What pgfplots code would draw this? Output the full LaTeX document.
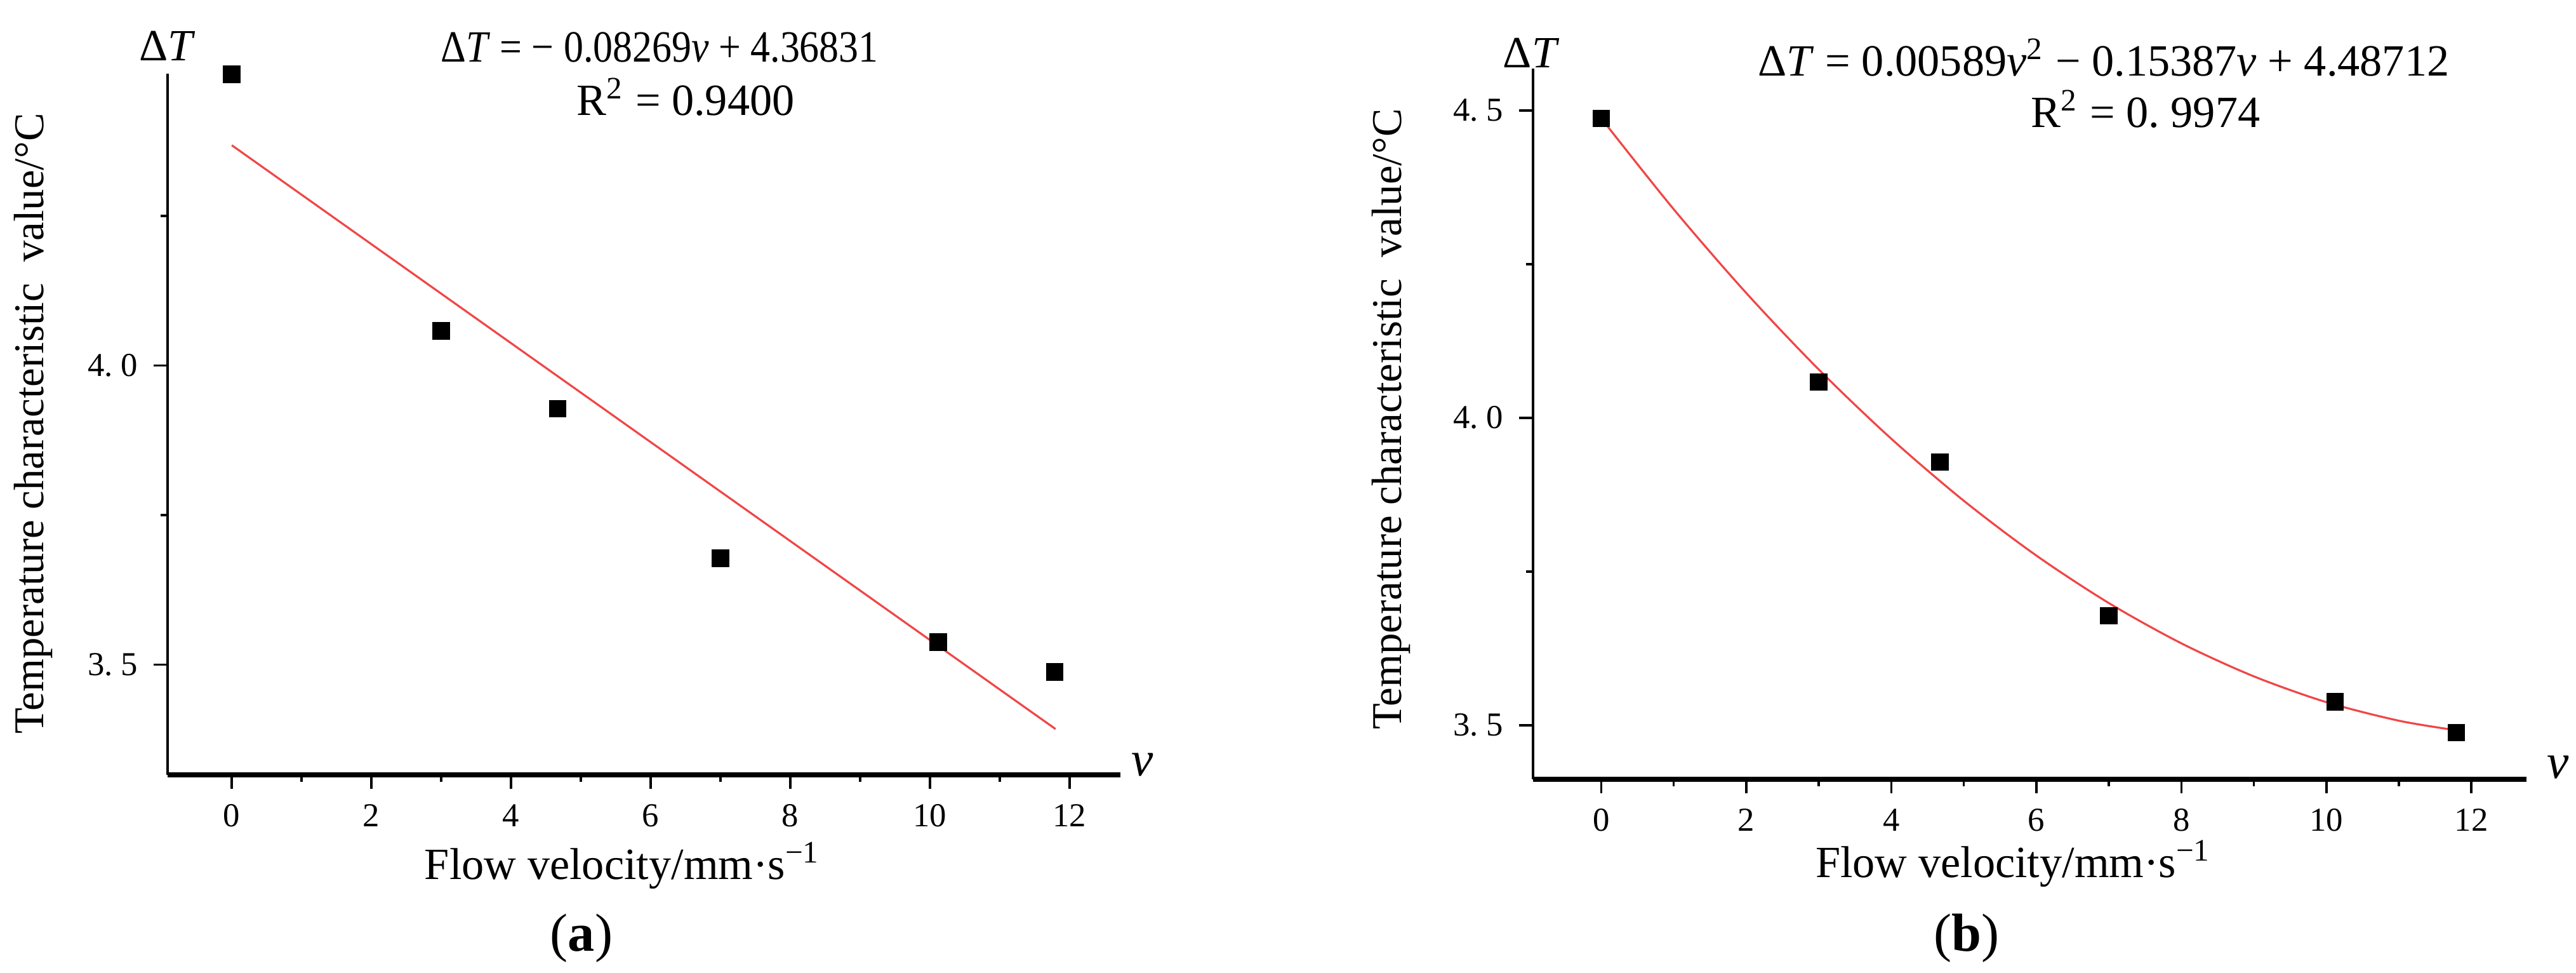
\documentclass[border=0pt]{standalone}
\usepackage{fontspec}
\setmainfont{Liberation Serif}
\usepackage{pgfplots}
\usepackage{pgfplotstable}
\pgfplotsset{compat=1.18}

% measured points (same in both panels)
\pgfplotstableread{
v dT
0     4.487
3.0   4.058
4.67  3.928
7.0   3.678
10.12 3.538
11.79 3.488
}\measured

% linear fit, end points
\pgfplotstableread{
v dT
0    4.36831
11.8 3.39257
}\linfit

% quadratic fit, tabulated
\pgfplotstableread{
v dT
0    4.48712
1    4.33914
2    4.20294
3    4.07852
4    3.96588
5    3.86502
6    3.77594
7    3.69864
8    3.63312
9    3.57938
10   3.53742
11   3.50724
11.8 3.49157
}\quadfit

\newcommand{\tl}[2]{#1.\hspace{0.25em}#2}

\pgfplotsset{
  panel/.style={
    scale only axis,
    axis x line*=bottom, axis y line*=left,
    axis line style={-},
    x axis line style={line width=1.1pt},
    y axis line style={line width=0.6pt},
    tick align=outside,
    xtick={0,2,...,12}, minor xtick={1,3,...,11},
    minor ytick={3.75,4.25},
    major tick length=0.11cm, minor tick length=0.055cm,
    tick style={black, line width=0.5pt},
    tick label style={font=\fontsize{7.5}{9}\selectfont},
    /pgf/number format/assume math mode=true,
    clip=false,
  },
  meas/.style={only marks, mark=square*, mark size=1.75pt, black},
  fitline/.style={no marks, color={rgb,255:red,240;green,70;blue,70}, line width=0.45pt},
}

\begin{document}
\begin{tikzpicture}[x=1cm,y=1cm]
\path[use as bounding box] (0,0) rectangle (20.29,7.66);

% ---------- (a) ----------
\begin{axis}[panel, at={(1.32cm,1.56cm)}, anchor=south west,
    width=7.505cm, height=5.52cm,
    xmin=-0.92, xmax=12.73, ymin=3.316, ymax=4.488,
    ytick={3.5,4.0}, yticklabels={{\tl{3}{5}},{\tl{4}{0}}}]
  \addplot[fitline] table[x=v,y=dT] {\linfit};
  \addplot[meas] table[x=v,y=dT] {\measured};
\end{axis}

% ---------- (b) ----------
\begin{axis}[panel, at={(12.075cm,1.525cm)}, anchor=south west,
    width=7.825cm, height=5.595cm,
    xmin=-0.94, xmax=12.76, ymin=3.412, ymax=4.568,
    ytick={3.5,4.0,4.5}, yticklabels={{\tl{3}{5}},{\tl{4}{0}},{\tl{4}{5}}}]
  \addplot[fitline, smooth] table[x=v,y=dT] {\quadfit};
  \addplot[meas] table[x=v,y=dT] {\measured};
\end{axis}

% labels, panel (a)
\node[font=\fontsize{10}{12}\selectfont] at (1.32,7.30) {Δ\textit{T}};
\node[font=\fontsize{11}{13}\selectfont] at (9.0,1.64) {\textit{v}};
\node[font=\fontsize{9.5}{11}\selectfont, rotate=90] at (0.26,4.325) {Temperature characteristic\ \ value/°C};
\node[font=\fontsize{10}{12}\selectfont] at (4.905,0.845) {Flow velocity/mm·s\textsuperscript{−1}};
\node[font=\fontsize{12}{14}\selectfont] at (4.58,0.275) {(\textbf{a})};
\node[font=\fontsize{10}{12}\selectfont] at (5.195,7.285) {\scalebox{0.88}[1]{Δ\textit{T} = − 0.08269\textit{v} + 4.36831}};
\node[font=\fontsize{10}{12}\selectfont] at (5.40,6.895) {R\textsuperscript{2} = 0.9400};

% labels, panel (b)
\node[font=\fontsize{10}{12}\selectfont] at (12.06,7.245) {Δ\textit{T}};
\node[font=\fontsize{11}{13}\selectfont] at (20.15,1.62) {\textit{v}};
\node[font=\fontsize{9.5}{11}\selectfont, rotate=90] at (10.955,4.36) {Temperature characteristic\ \ value/°C};
\node[font=\fontsize{10}{12}\selectfont] at (15.86,0.86) {Flow velocity/mm·s\textsuperscript{−1}};
\node[font=\fontsize{12}{14}\selectfont] at (15.49,0.275) {(\textbf{b})};
\node[font=\fontsize{10}{12}\selectfont] at (16.57,7.205) {Δ\textit{T} = 0.00589\textit{v}\textsuperscript{2} − 0.15387\textit{v} + 4.48712};
\node[font=\fontsize{10}{12}\selectfont] at (16.90,6.80) {R\textsuperscript{2} = 0.\hspace{0.25em}9974};
\end{tikzpicture}
\end{document}
